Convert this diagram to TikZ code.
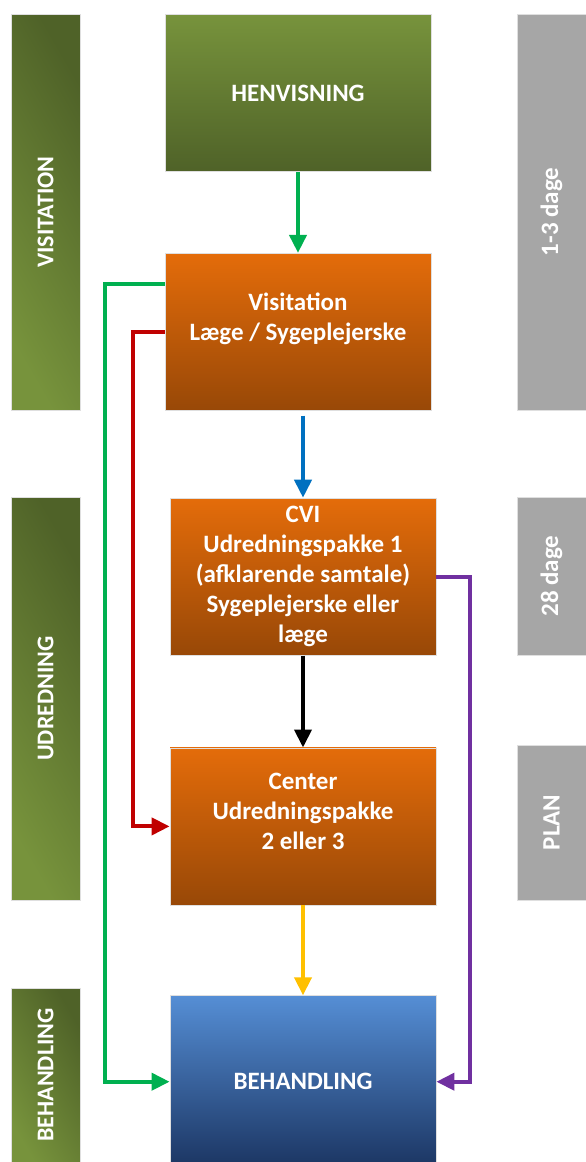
\documentclass[tikz,border=0pt]{standalone}
\usepackage{fontspec}
\setmainfont{Carlito}
\usepackage{xcolor}
\usepackage{graphicx}
\usepackage{tikz}
\usetikzlibrary{arrows.meta, positioning, calc}

\definecolor{henvtop}{HTML}{77933C}
\definecolor{henvbot}{HTML}{4F6228}
\definecolor{orangetop}{HTML}{E46C0A}
\definecolor{orangebot}{HTML}{984807}
\definecolor{bluetop}{HTML}{558ED5}
\definecolor{bluebot}{HTML}{1B3562}
\definecolor{timegray}{HTML}{A6A6A6}
\definecolor{arrgreen}{HTML}{00B050}
\definecolor{arrred}{HTML}{C00000}
\definecolor{arrblue}{HTML}{0070C0}
\definecolor{arryellow}{HTML}{FFC000}
\definecolor{arrpurple}{HTML}{7030A0}

\begin{document}
\begin{tikzpicture}[x=0.5pt, y=-0.5pt,
    box/.style={rectangle, draw=gray!25, line width=0.4pt, minimum width=133pt, minimum height=78.5pt, inner sep=1pt, align=center, text=white, font=\fontsize{12.5}{15}\selectfont\bfseries},
    greenbox/.style={box, top color=henvtop, bottom color=henvbot},
    orangebox/.style={box, top color=orangetop, bottom color=orangebot},
    bluebox/.style={box, top color=bluetop, bottom color=bluebot},
    phasebar/.style={rectangle, draw=gray!25, line width=0.4pt, minimum width=34.5pt, inner sep=0pt, text=white, font=\fontsize{12}{14}\selectfont\bfseries, left color=henvtop, right color=henvbot, shading angle=120},
    timebar/.style={rectangle, draw=gray!25, line width=0.4pt, minimum width=34.5pt, inner sep=0pt, text=white, font=\fontsize{12.5}{15}\selectfont\bfseries, fill=timegray},
    arrow/.style={-{Triangle[length=9pt,width=8.5pt]}, line width=2pt}
]
    \useasboundingbox (0,0) rectangle (585,1162);

    % Main flow
    \node[greenbox] (henv) at (298,93) {HENVISNING};
    \node[orangebox, below=40.5pt of henv] (visit) {Visitation\\Læge / Sygeplejerske\\\mbox{}};
    \node[orangebox, below=43.5pt of visit, xshift=2.5pt] (cvi) {CVI\\Udredningspakke 1\\(afklarende samtale)\\Sygeplejerske eller\\læge};
    \node[orangebox, below=46pt of cvi] (center) {Center\\Udredningspakke\\2 eller 3\\\mbox{}};
    \node[bluebox, minimum height=86pt, below=45pt of center] (beh) {BEHANDLING};

    % Phases
    \node[phasebar, minimum height=198pt] (visbar) at (45.5,212) {\rotatebox{90}{VISITATION}};
    \node[phasebar, minimum height=201.5pt] (udbar) at (45.5,698.5) {\rotatebox{90}{UDREDNING}};
    \node[phasebar, minimum height=87pt] (behbar) at (45.5,1075) {\rotatebox{90}{BEHANDLING}};

    % Time
    \node[timebar, minimum height=198pt] (days1) at (551.5,212) {\rotatebox{90}{1-3 dage}};
    \node[timebar, minimum height=79pt] (days28) at (551.5,576) {\rotatebox{90}{28 dage}};
    \node[timebar, minimum height=77.5pt] (plan) at (551.5,822.5) {\rotatebox{90}{PLAN}};

    % Connect components
    \draw[arrow, arrgreen] (henv) -- (visit);
    \draw[arrow, arrblue] ($(visit.south -| cvi.north)+(0,5)$) -- (cvi.north);
    \draw[arrow, black] (cvi) -- (center);
    \draw[arrow, arryellow] (center) -- (beh);

    % Bypasses
    \draw[arrow, arrgreen] ([yshift=24pt]visit.west) -- ++(-60,0) |- (beh.west);
    \draw[arrow, arrred] (visit.west) -- ++(-32,0) |- (center.west);
    \draw[arrow, arrpurple] (cvi.east) -- ++(34,0) |- (beh.east);

\end{tikzpicture}
\end{document}
